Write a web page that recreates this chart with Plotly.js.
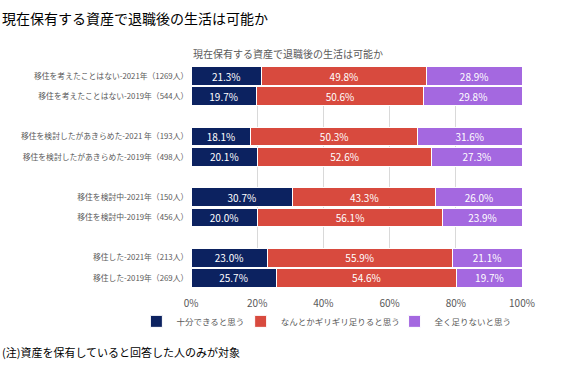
<!DOCTYPE html>
<html><head><meta charset="utf-8">
<script src="https://cdn.plot.ly/plotly-3.0.1.min.js"></script>
<style>body{margin:0;background:#fff}#c{width:567px;height:366px}</style>
</head><body><div id="c"></div>
<script>
const categories = [
  "移住を考えたことはない-2021年（1269人）",
  "移住を考えたことはない-2019年（544人）",
  " ",
  "移住を検討したがあきらめた-2021 年（193人）",
  "移住を検討したがあきらめた-2019年（498人）",
  "  ",
  "移住を検討中-2021年（150人）",
  "移住を検討中-2019年（456人）",
  "   ",
  "移住した-2021年（213人）",
  "移住した-2019年（269人）"
];
const seriesNames = ["十分できると思う", "なんとかギリギリ足りると思う", "全く足りないと思う"];
const enough   = [21.3, 19.7, null, 18.1, 20.1, null, 30.7, 20.0, null, 23.0, 25.7];
const barely   = [49.8, 50.6, null, 50.3, 52.6, null, 43.3, 56.1, null, 55.9, 54.6];
const notAtAll = [28.9, 29.8, null, 31.6, 27.3, null, 26.0, 23.9, null, 21.1, 19.7];
const tickVals = [0, 20, 40, 60, 80, 100];
const tickText = ["0%", "20%", "40%", "60%", "80%", "100%"];
const colors = ["#0c2260", "#d84a3e", "#a468e0"];

const font = "'Noto Sans CJK JP', 'Noto Sans', sans-serif";
const legendIds = ["legend", "legend2", "legend3"];
const data = [enough, barely, notAtAll].map((vals, i) => ({
  type: "bar", orientation: "h",
  y: categories, x: vals, name: seriesNames[i], legend: legendIds[i],
  marker: {color: colors[i], line: {color: "#ffffff", width: 1}},
  text: vals.map(v => v == null ? "" : v.toFixed(1) + "%"),
  textposition: "inside", insidetextanchor: "middle", constraintext: "none",
  textfont: {color: "#ffffff", size: 10, family: font},
  hoverinfo: "none"
}));

function leg(x) {
  return {orientation: "h", x: x, xanchor: "left", y: -0.085, yanchor: "top",
          bgcolor: "rgba(0,0,0,0)", itemwidth: 30,
          font: {size: 8.5, color: "#595959", family: font}};
}

const layout = {
  width: 567, height: 366,
  margin: {l: 191, r: 45, t: 66, b: 78},
  barmode: "stack", bargap: 0.08,
  paper_bgcolor: "#fff", plot_bgcolor: "#fff",
  font: {family: font, size: 10, color: "#595959"},
  showlegend: true,
  legend: leg(-0.165), legend2: leg(0.15), legend3: leg(0.615),
  xaxis: {range: [0, 100], tickvals: tickVals, ticktext: tickText, showgrid: true,
          gridcolor: "#d9d9d9", zeroline: false, showline: false,
          ticks: "outside", ticklen: 6, tickcolor: "rgba(0,0,0,0)",
          tickfont: {size: 10, color: "#595959"}, fixedrange: true},
  yaxis: {type: "category", categoryorder: "array", categoryarray: categories.slice().reverse(),
          showgrid: false, showline: false, ticks: "",
          tickfont: {size: 7.8, color: "#595959"}, ticksuffix: " "},
  annotations: [
    {text: "現在保有する資産で退職後の生活は可能か", xref: "paper", yref: "paper", x: 0, xanchor: "left",
     y: 1.058, yanchor: "middle", showarrow: false, font: {size: 10, color: "#595959"}},
    {text: "現在保有する資産で退職後の生活は可能か", xref: "paper", yref: "paper", x: -0.577, xanchor: "left",
     y: 1.27, yanchor: "top", showarrow: false, font: {size: 14, color: "#000000"}},
    {text: "(注)資産を保有していると回答した人のみが対象", xref: "paper", yref: "paper", x: -0.577, xanchor: "left",
     y: -0.288, yanchor: "middle", showarrow: false, font: {size: 11, color: "#000000"}}
  ]
};
Plotly.newPlot("c", data, layout, {displayModeBar: false, staticPlot: true});
</script></body></html>
